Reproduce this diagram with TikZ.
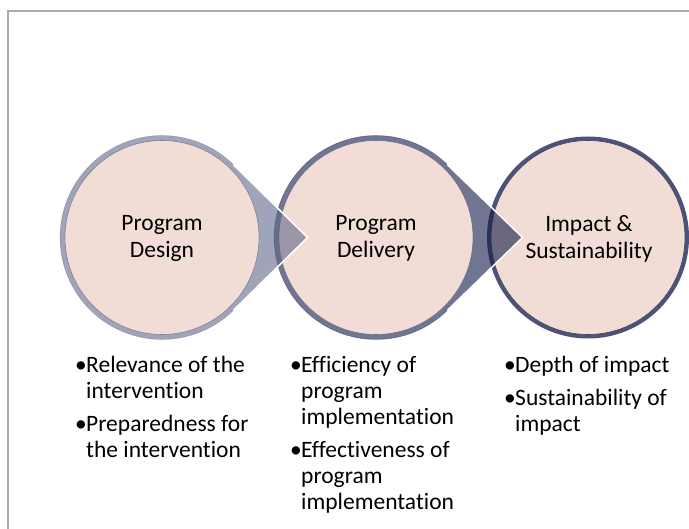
\documentclass[tikz,border=0pt]{standalone}
\usepackage{fontspec}
\setmainfont{Carlito}[Ligatures=NoCommon]
\usetikzlibrary{calc}
\definecolor{pinkfill}{RGB}{242,220,214}
\definecolor{ringA}{RGB}{97,103,137}
\definecolor{ringB}{RGB}{17,25,73}
\definecolor{ringC}{RGB}{77,83,120}
\definecolor{framegray}{RGB}{170,170,170}
\tikzset{
  innerdisc/.style={circle, inner sep=0pt, minimum size=194pt, fill=pinkfill},
  titletext/.style={font=\fontsize{23.5}{27}\selectfont, inner sep=0pt, anchor=base},
  bullettext/.style={font=\fontsize{23.5}{26}\selectfont, inner sep=0pt, anchor=base west},
  tipedge/.style={draw=white, line width=1.5pt},
}
\newcommand{\bul}{\makebox[11pt][l]{•}}
\begin{document}
\begin{tikzpicture}[x=1pt,y=-1pt]
\useasboundingbox (0,0) rectangle (689,529);
% frame (top and left edges)
\coordinate (fTR) at (689,11);
\coordinate (fTL) at (8,11);
\coordinate (fBL) at (8,529);
\draw[framegray, line width=1.8pt] (fTR) -- (fTL) -- (fBL);

\coordinate (o1) at (162,237.5);
\coordinate (o2) at (376,237.5);
\coordinate (o3) at (588,237.5);

% ---- circle 3 (last, no tip)
\fill[ringC] (o3) circle[radius=101];
\node[innerdisc, draw=ringC!80!black, line width=0.6pt] (c3) at (o3) {};

% ---- teardrop 2
\coordinate (p2) at (522.5,237.5);
\coordinate (u2) at ($(o2)+(-45.5:102)$);
\coordinate (d2) at ($(o2)+(45.5:102)$);
\fill[ringB, fill opacity=0.6] (p2) -- (u2) arc[start angle=-45.5, end angle=-314.5, radius=102] -- cycle;
\draw[ringB, opacity=0.35, line width=0.6pt] (u2) arc[start angle=-45.5, end angle=-314.5, radius=102];
\draw[tipedge] (u2) -- (p2) -- (d2);
\node[innerdisc, draw=ringB!70, draw opacity=0.7, line width=0.6pt] (c2) at (o2) {};

% ---- teardrop 1
\coordinate (p1) at (307.5,237.5);
\coordinate (u1) at ($(o1)+(-45.5:102)$);
\coordinate (d1) at ($(o1)+(45.5:102)$);
\fill[ringA, fill opacity=0.6] (p1) -- (u1) arc[start angle=-45.5, end angle=-314.5, radius=102] -- cycle;
\draw[ringA, opacity=0.35, line width=0.6pt] (u1) arc[start angle=-45.5, end angle=-314.5, radius=102];
\draw[tipedge] (u1) -- (p1) -- (d1);
\node[innerdisc, draw=ringA, draw opacity=0.7, line width=0.6pt] (c1) at (o1) {};

% ---- titles
\node[titletext] (t1) at (162,231) {\begin{tabular}[t]{@{}c@{}}Program\\Design\end{tabular}};
\node[titletext] (t2) at (376,231) {\begin{tabular}[t]{@{}c@{}}Program\\Delivery\end{tabular}};
\node[titletext] (t3) at (589,231.5) {\begin{tabular}[t]{@{}c@{}}Impact \&\\Sustainability\end{tabular}};

% ---- bullet lists
\node[bullettext] (l1) at (75,373) {\begin{tabular}[t]{@{}l@{}l@{}}\bul&Relevance of the\\&intervention\\[7pt]\bul&Preparedness for\\&the intervention\end{tabular}};
\node[bullettext] (l2) at (290,373) {\begin{tabular}[t]{@{}l@{}l@{}}\bul&Efficiency of\\&program\\&implementation\\[7pt]\bul&Effectiveness of\\&program\\&implementation\end{tabular}};
\node[bullettext] (l3) at (504,373) {\begin{tabular}[t]{@{}l@{}l@{}}\bul&Depth of impact\\[7pt]\bul&Sustainability of\\&impact\end{tabular}};
\end{tikzpicture}
\end{document}
